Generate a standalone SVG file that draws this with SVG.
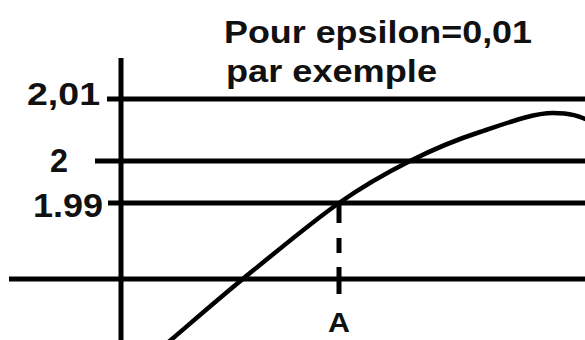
<svg xmlns="http://www.w3.org/2000/svg" width="585" height="340" viewBox="0 0 585 340">
<style>
.ln{stroke:#000;stroke-width:5;fill:none}
.cv{stroke:#000;stroke-width:4.5;fill:none;stroke-linejoin:round}
.t{font-family:"Liberation Sans",Arial,sans-serif;font-weight:bold;fill:#111}
</style>
<rect width="585" height="340" fill="#fff"/>
<g id="connectors">
<line class="ln" x1="121" y1="58" x2="121" y2="340"/>
<line class="ln" x1="107" y1="99" x2="585" y2="99"/>
<line class="ln" x1="95" y1="161" x2="585" y2="161"/>
<line class="ln" x1="108" y1="203" x2="585" y2="203"/>
<line class="ln" x1="9" y1="279" x2="585" y2="279"/>
<path class="ln" d="M339,203V223M339,238V253M339,267V294"/>
<path class="cv" d="M165,345C191.3,322.7 215,301.7 244,278C273,254.3 311.3,222.5 339,203C366.7,183.5 386.5,172.8 410,161C433.5,149.2 455.3,140 480,132C504.7,124 532,113 553,113C568,113 580,115 595,124"/>
</g>
<g id="title">
<text class="t" x="224" y="43" font-size="32" textLength="308" lengthAdjust="spacingAndGlyphs">Pour epsilon=0,01</text>
<text class="t" x="226" y="82" font-size="32" textLength="211" lengthAdjust="spacingAndGlyphs">par exemple</text>
</g>
<g id="label-201"><text class="t" x="27" y="105" font-size="31" textLength="73" lengthAdjust="spacingAndGlyphs">2,01</text></g>
<g id="label-2"><text class="t" x="50" y="172" font-size="34" textLength="18" lengthAdjust="spacingAndGlyphs">2</text></g>
<g id="label-199"><text class="t" x="33" y="217" font-size="34" textLength="70" lengthAdjust="spacingAndGlyphs">1.99</text></g>
<g id="label-A"><text class="t" x="328" y="332" font-size="27" textLength="22" lengthAdjust="spacingAndGlyphs">A</text></g>
</svg>
